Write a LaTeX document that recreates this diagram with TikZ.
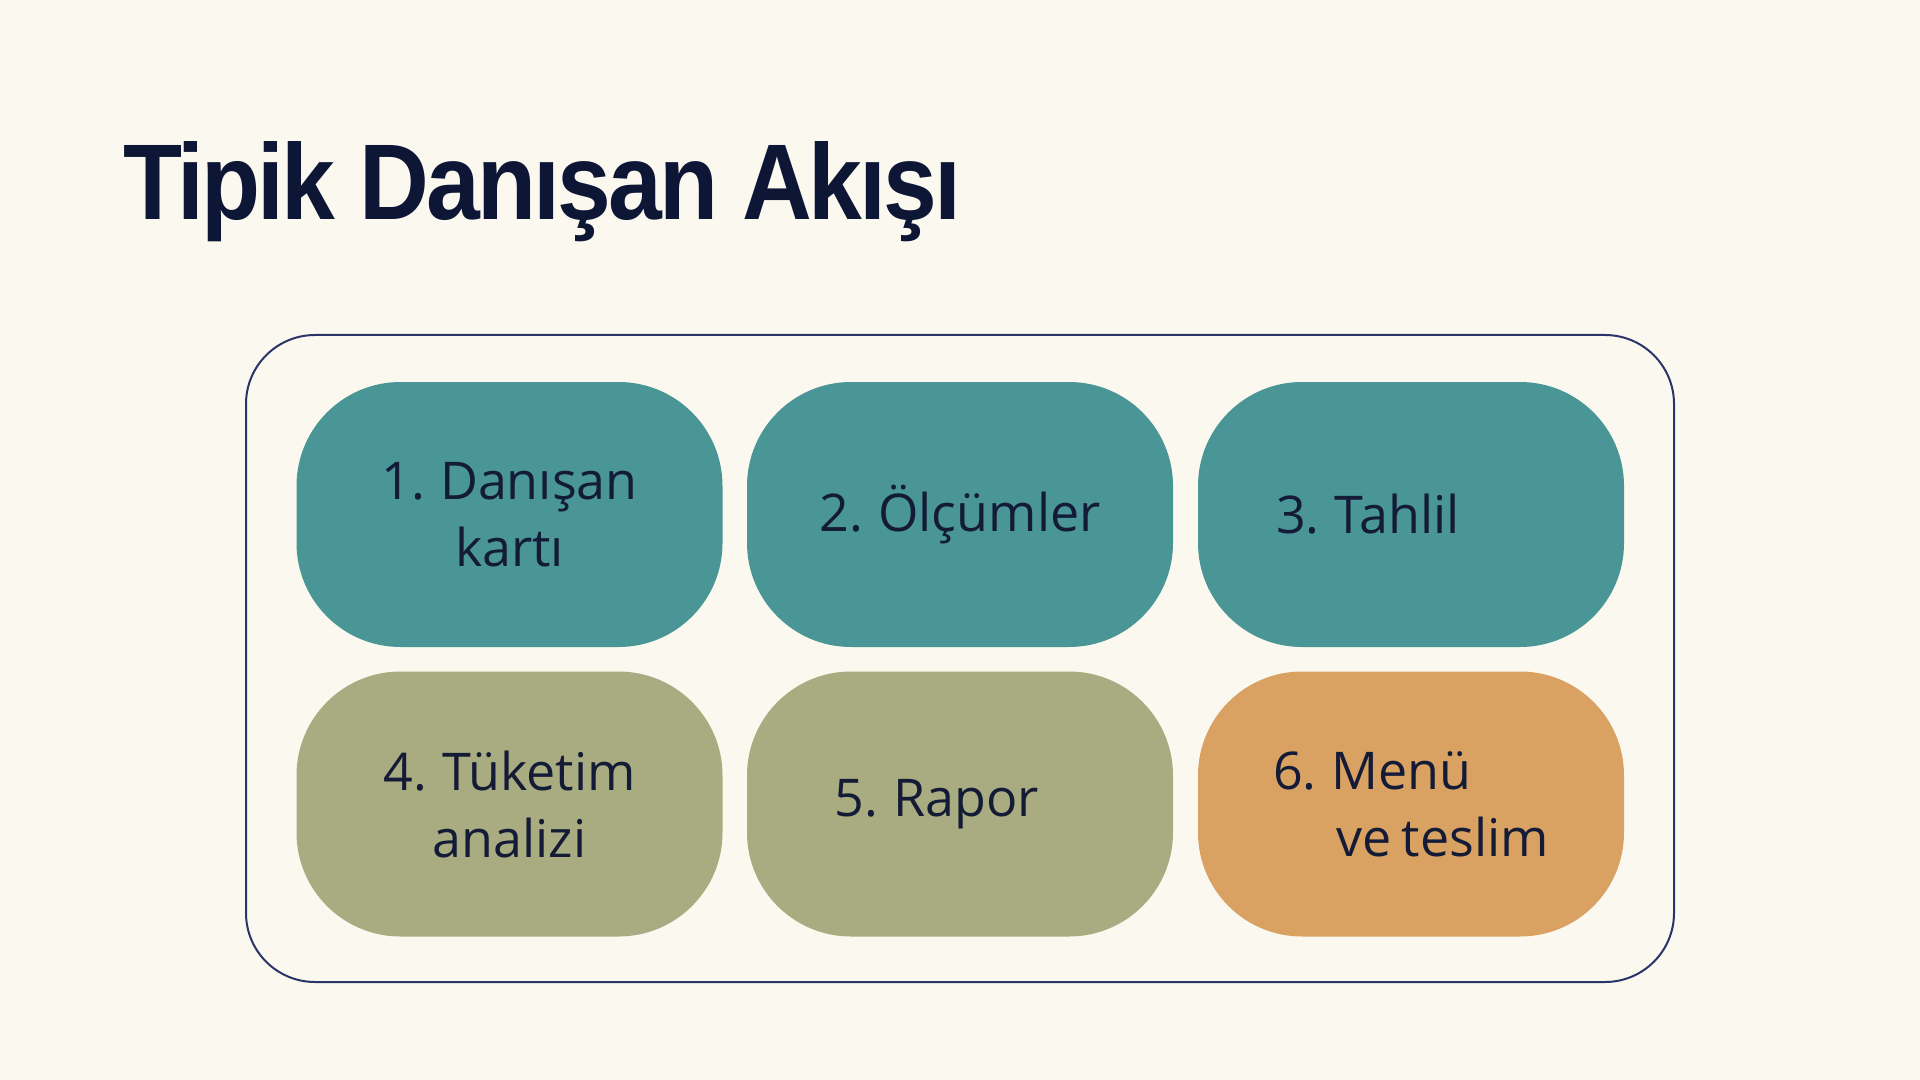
\documentclass[tikz,border=0pt]{standalone}
\usepackage{fontspec}
\usepackage{graphicx}
\setmainfont[WordSpace=0.8]{Open Sans}
\newfontfamily\titlefont[LetterSpace=-3]{Liberation Sans}
\definecolor{bgcol}{HTML}{FAF8EF}
\definecolor{titlecol}{HTML}{0E1636}
\definecolor{textcol}{HTML}{131B36}
\definecolor{framecol}{HTML}{2B3468}
\definecolor{tealcol}{HTML}{4A9696}
\definecolor{olivecol}{HTML}{A8AC80}
\definecolor{orangecol}{HTML}{D9A262}
\tikzset{
  stepbox/.style={rectangle, rounded corners=52pt, minimum width=213pt,
    minimum height=132.5pt, inner sep=0pt, text=textcol,
    font=\fontsize{26pt}{33.5pt}\selectfont},
}
\begin{document}
\begin{tikzpicture}[x=0.5pt,y=-0.5pt]
\fill[bgcol] (0,0) rectangle (1920,1080);
\useasboundingbox (0,0) rectangle (1920,1080);
\node[anchor=base west, inner sep=0pt, text=titlecol] (title) at (123,220)
  {\resizebox{419pt}{\height}{\titlefont\bfseries\fontsize{53.8pt}{60pt}\selectfont Tipik Danışan Akışı}};
\node[draw=framecol, line width=1pt, rounded corners=34.5pt, minimum width=714pt,
  minimum height=323.5pt, inner sep=0pt] (frame) at (960,658.5) {};
\node[stepbox, fill=tealcol, align=center] (s1) at (509.5,514.5) {1. Danışan\\kartı};
\node[stepbox, fill=tealcol] (s2) at (960,514.5) {2. Ölçümler};
\node[stepbox, fill=tealcol] (s3) at (1411,514.5) {3. Tahlil\hspace*{43pt}};
\node[stepbox, fill=olivecol, align=center] (s4) at (509.5,804) {4. Tüketim\\analizi};
\node[stepbox, fill=olivecol] (s5) at (960,804) {5. Rapor\hspace*{23pt}};
\node[stepbox, fill=orangecol, align=left] (s6) at (1411,804) {6. Menü\\\hspace*{31.5pt}ve teslim};
\end{tikzpicture}
\end{document}
